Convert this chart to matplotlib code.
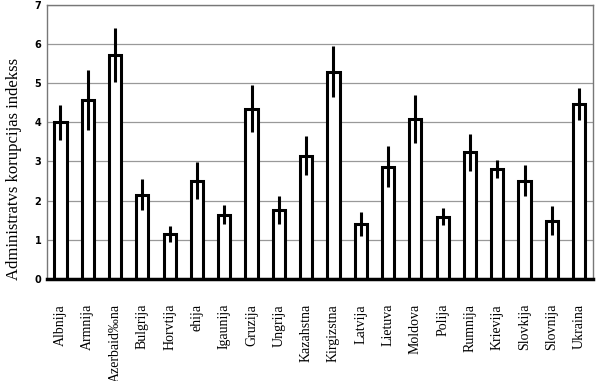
import matplotlib.pyplot as plt
import numpy as np

# Administrative corruption index by country, with error bars
countries = ["Albnija", "Armnija", "Azerbaid\u2030na", "Bulgrija", "Horvtija", "ehija",
             "Igaunija", "Gruzija", "Ungrija", "Kazahstna", "Kirgizstna", "Latvija",
             "Lietuva", "Moldova", "Polija", "Rumnija", "Krievija", "Slovkija",
             "Slovnija", "Ukraina"]
index_values = [4.0, 4.58, 5.71, 2.15, 1.15, 2.51, 1.64, 4.35, 1.75, 3.15,
                5.29, 1.40, 2.87, 4.09, 1.59, 3.23, 2.81, 2.51, 1.49, 4.47]
errors = [0.45, 0.77, 0.69, 0.39, 0.21, 0.48, 0.24, 0.6, 0.36, 0.5,
          0.65, 0.3, 0.53, 0.62, 0.22, 0.47, 0.23, 0.4, 0.36, 0.4]
yticks = [0, 1, 2, 3, 4, 5, 6, 7]

fig = plt.figure(figsize=(6, 3.81), dpi=100)
ax = fig.add_axes([0.078, 0.268, 0.91, 0.719])

x = np.arange(len(countries))
ax.bar(x, index_values, width=0.45, color="white", edgecolor="black", linewidth=2.2, zorder=3)
ax.errorbar(x, index_values, yerr=errors, fmt="none", ecolor="black", elinewidth=2.2,
            capsize=0, zorder=4)

ax.set_xlim(-0.5, len(countries) - 0.5)
ax.set_ylim(0, 7)
ax.set_yticks(yticks)
ax.set_yticklabels([str(t) for t in yticks], fontsize=7, fontweight="bold", family="DejaVu Sans")
ax.yaxis.grid(True, color="#999999", linewidth=0.9, zorder=0)
ax.tick_params(axis="y", length=0, pad=4)
ax.tick_params(axis="x", length=0, pad=18)

ax.set_xticks(x)
ax.set_xticklabels(countries, rotation=90, fontsize=10, family="Liberation Serif", va="top")

for side in ["top", "right", "left"]:
    ax.spines[side].set_color("#777777")
    ax.spines[side].set_linewidth(1.0)
ax.spines["bottom"].set_linewidth(2.5)
ax.spines["bottom"].set_zorder(5)

ax.set_ylabel("Administratvs korupcijas indekss", fontsize=12, family="Liberation Serif")
ax.yaxis.set_label_coords(-0.045, 0.40)

plt.savefig("out.png", dpi=100)
